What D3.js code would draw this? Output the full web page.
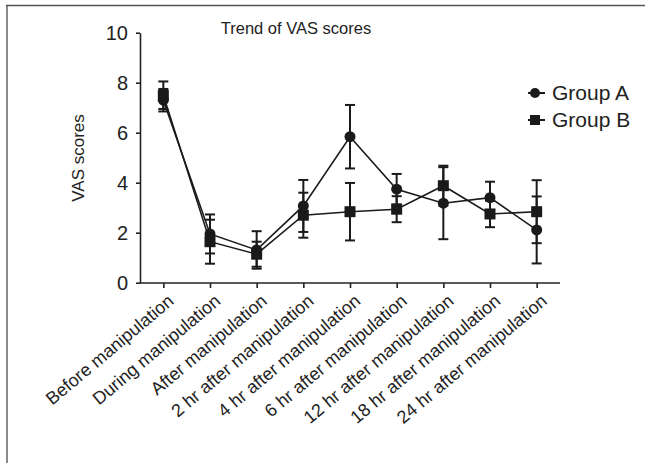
<!DOCTYPE html>
<html><head><meta charset="utf-8">
<script src="https://cdn.jsdelivr.net/npm/d3@7"></script>
<style>body{margin:0;background:#fff}svg{display:block}text{font-family:"Liberation Sans",Arial,sans-serif;fill:#222}</style>
</head><body>
<script>
const categories = ["Before manipulation","During manipulation","After manipulation","2 hr after manipulation","4 hr after manipulation","6 hr after manipulation","12 hr after manipulation","18 hr after manipulation","24 hr after manipulation"];
const groupA = [7.3, 1.95, 1.31, 3.07, 5.84, 3.74, 3.18, 3.4, 2.11];
const groupAErr = [0.45, 0.78, 0.75, 1.04, 1.27, 0.61, 1.44, 0.64, 1.34];
const groupB = [7.5, 1.64, 1.14, 2.7, 2.84, 2.94, 3.88, 2.75, 2.84];
const groupBErr = [0.55, 0.88, 0.5, 0.9, 1.15, 0.52, 0.8, 0.53, 1.26];
const yTicks = [0, 2, 4, 6, 8, 10];
const seriesNames = ["Group A", "Group B"];

const W = 645, H = 463;
const svg = d3.select("body").append("svg").attr("width", W).attr("height", H);

// frame
svg.append("line").attr("x1",7).attr("x2",7).attr("y1",5).attr("y2",H).attr("stroke","#8a8a8a").attr("stroke-width",2);
svg.append("line").attr("x1",6).attr("x2",W).attr("y1",5.5).attr("y2",5.5).attr("stroke","#555").attr("stroke-width",1.5);

const x = d3.scalePoint().domain(categories).range([140, 560]).padding(0.5);
const y = d3.scaleLinear().domain([0, 10]).range([282.7, 32.7]);

// axes
const yAxis = svg.append("g").attr("transform","translate(140,0)")
  .call(d3.axisLeft(y).tickValues(yTicks).tickSize(4).tickPadding(8).tickSizeOuter(0));
yAxis.select(".domain").attr("stroke","#222").attr("stroke-width",1.6);
yAxis.selectAll(".tick line").attr("stroke","#222").attr("stroke-width",1.6);
yAxis.selectAll(".tick text").style("font-size","20px").attr("fill","#222");

const xAxis = svg.append("g").attr("transform","translate(0,283)")
  .call(d3.axisBottom(x).tickSize(5).tickSizeOuter(0));
xAxis.select(".domain").attr("d","M140,0H560").attr("stroke","#222").attr("stroke-width",1.6);
xAxis.selectAll(".tick line").attr("stroke","#222").attr("stroke-width",1.6);
xAxis.selectAll(".tick text").style("font-size","18px").attr("fill","#222")
  .attr("text-anchor","end").attr("dy","0.35em")
  .attr("transform","translate(7,15) rotate(-40)").attr("x",0).attr("y",0);

// title
svg.append("text").attr("x",296).attr("y",34).attr("text-anchor","middle").style("font-size","16.5px").text("Trend of VAS scores");
// y label
svg.append("text").attr("transform","translate(84,158) rotate(-90)").attr("text-anchor","middle").style("font-size","17px").text("VAS scores");

const series = [
  {name: seriesNames[0], v: groupA, e: groupAErr, shape: "circle"},
  {name: seriesNames[1], v: groupB, e: groupBErr, shape: "square"}
];
const line = d3.line().x((d,i)=>x(categories[i])).y(d=>y(d));

series.forEach(s=>{
  svg.append("path").attr("d", line(s.v)).attr("fill","none").attr("stroke","#1a1a1a").attr("stroke-width",1.6);
});
series.forEach(s=>{
  const g = svg.append("g").attr("stroke","#1a1a1a").attr("stroke-width",2);
  s.v.forEach((v,i)=>{
    const cx = x(categories[i]);
    const top = y(v + s.e[i]), bot = y(v - s.e[i]);
    g.append("line").attr("x1",cx).attr("x2",cx).attr("y1",top).attr("y2",bot);
    g.append("line").attr("x1",cx-5).attr("x2",cx+5).attr("y1",top).attr("y2",top);
    g.append("line").attr("x1",cx-5).attr("x2",cx+5).attr("y1",bot).attr("y2",bot);
  });
});
function marker(g, shape, cx, cy){
  if(shape==="circle") g.append("circle").attr("cx",cx).attr("cy",cy).attr("r",5.5).attr("fill","#1a1a1a");
  else g.append("rect").attr("x",cx-5.5).attr("y",cy-5.5).attr("width",11).attr("height",11).attr("fill","#1a1a1a");
}
series.forEach(s=>{
  const g = svg.append("g");
  s.v.forEach((v,i)=>marker(g, s.shape, x(categories[i]), y(v)));
});

// legend
series.forEach((s,i)=>{
  const ly = 93 + i*27;
  svg.append("line").attr("x1",528).attr("x2",545).attr("y1",ly).attr("y2",ly).attr("stroke","#1a1a1a").attr("stroke-width",2);
  const g = svg.append("g");
  if(s.shape==="circle") g.append("circle").attr("cx",535).attr("cy",ly).attr("r",5).attr("fill","#1a1a1a");
  else g.append("rect").attr("x",530).attr("y",ly-5).attr("width",10).attr("height",10).attr("fill","#1a1a1a");
  svg.append("text").attr("x",552).attr("y",ly).attr("dy","0.35em").style("font-size","21px").text(s.name);
});
</script>
</body></html>
